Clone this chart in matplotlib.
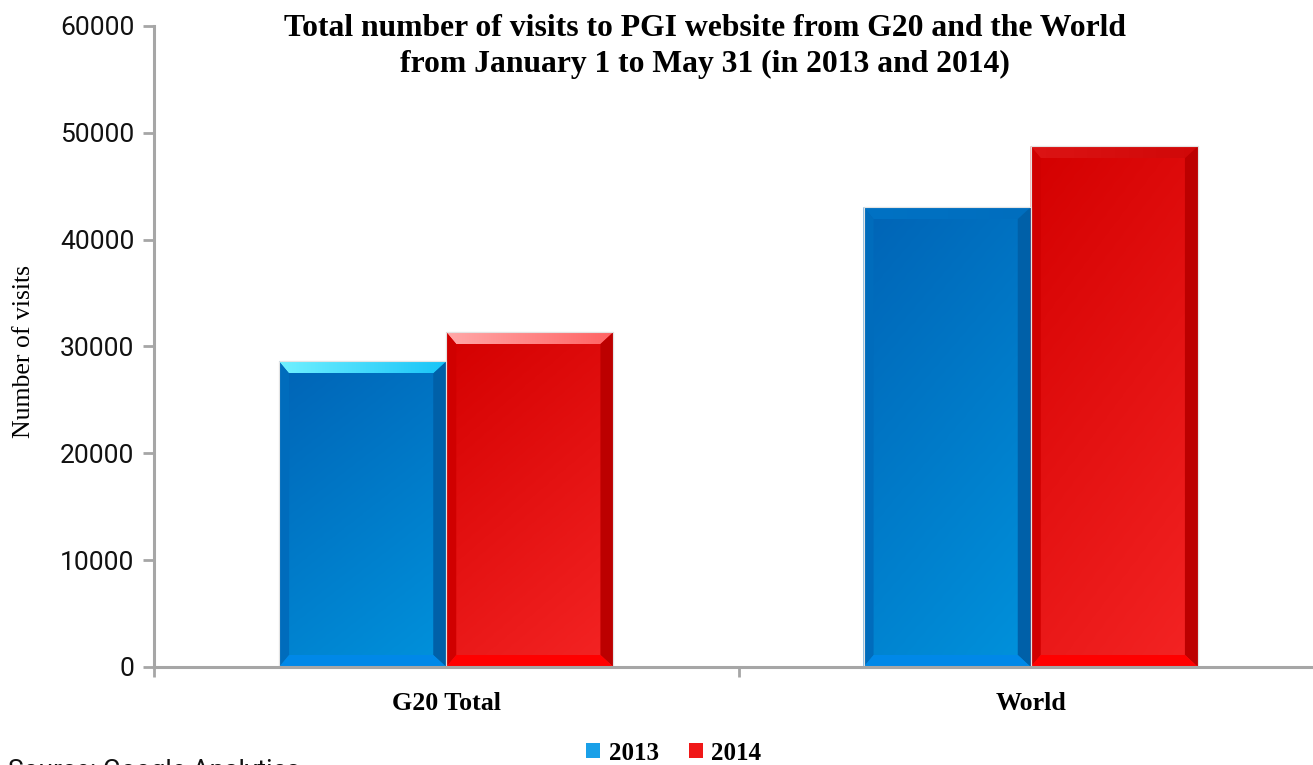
import numpy as np
import matplotlib
matplotlib.use("Agg")
import matplotlib.pyplot as plt
from matplotlib.patches import Polygon, Patch
from matplotlib.colors import LinearSegmentedColormap

# ---- data ----
categories = ["G20 Total", "World"]
series_names = ["2013", "2014"]
visits_2013 = [28600, 43050]
visits_2014 = [31350, 48750]
yticks = [0, 10000, 20000, 30000, 40000, 50000, 60000]

title = "Total number of visits to PGI website from G20 and the World\nfrom January 1 to May 31 (in 2013 and 2014)"
ylabel = "Number of visits"
source = "Source: Google Analytics"

# ---- styles ----
W, H, DPI = 1313, 765, 100
fig = plt.figure(figsize=(W / DPI, H / DPI), dpi=DPI)
fig.patch.set_facecolor("white")
ax = fig.add_axes([154 / W, 1 - 667 / H, 1169 / W, 641 / H])
ax.set_xlim(-0.5, 1.5)
ax.set_ylim(0, 60000)

styles = {
    "2013": dict(body=("#0064B6", "#0092DC"), right="#0060A8", left="#006CBC",
                 bottom="#0088E8",
                 top=[("#70F0FF", "#18C4F8"), ("#0072C4", "#006EBE")],
                 offset=-0.143),
    "2014": dict(body=("#D40000", "#F42424"), right="#BC0000", left="#D00000",
                 bottom="#FF0000",
                 top=[("#FFA8A8", "#FF6464"), ("#DC1414", "#D00808")],
                 offset=0.143),
}
bar_w = 0.286
bev_px = dict(left=10, right=13, top=12, bottom=12)


def grad_fill(ax, verts, c1, c2, direction="diag"):
    poly = Polygon(verts, closed=True, facecolor="none", edgecolor="none")
    ax.add_patch(poly)
    xs = [v[0] for v in verts]
    ys = [v[1] for v in verts]
    n = 64
    if direction == "diag":
        gx, gy = np.meshgrid(np.linspace(0, 1, n), np.linspace(0, 1, n))
        g = np.clip((0.6 * gx + 1.4 * gy) / 2, 0, 1)
    elif direction == "h":
        g = np.tile(np.linspace(0, 1, n), (n, 1))
    else:
        g = np.tile(np.linspace(0, 1, n)[:, None], (1, n))
    cmap = LinearSegmentedColormap.from_list("g", [c1, c2])
    im = ax.imshow(g, cmap=cmap, extent=(min(xs), max(xs), min(ys), max(ys)),
                   origin="upper", aspect="auto", interpolation="bilinear", zorder=2)
    im.set_clip_path(poly)


fig.canvas.draw()
px_per_x = ax.transData.transform((1, 0))[0] - ax.transData.transform((0, 0))[0]
px_per_y = ax.transData.transform((0, 1))[1] - ax.transData.transform((0, 0))[1]

for name, vals in zip(series_names, [visits_2013, visits_2014]):
    st = styles[name]
    xpos = np.arange(len(categories)) + st["offset"]
    bars = ax.bar(xpos, vals, width=bar_w, color=st["body"][0],
                  edgecolor="#D8D8D8", linewidth=0.8, zorder=1)
    for i, r in enumerate(bars):
        x0, y0 = r.get_x(), r.get_y()
        x1, y1 = x0 + r.get_width(), y0 + r.get_height()
        dl = bev_px["left"] / px_per_x
        dr = bev_px["right"] / px_per_x
        dt = bev_px["top"] / px_per_y
        db = bev_px["bottom"] / px_per_y
        grad_fill(ax, [(x0, y0), (x1, y0), (x1, y1), (x0, y1)],
                  st["body"][0], st["body"][1], "diag")
        ax.add_patch(Polygon([(x0, y0), (x0 + dl, y0 + db), (x0 + dl, y1 - dt), (x0, y1)],
                             facecolor=st["left"], edgecolor="none", zorder=3))
        ax.add_patch(Polygon([(x1, y0), (x1 - dr, y0 + db), (x1 - dr, y1 - dt), (x1, y1)],
                             facecolor=st["right"], edgecolor="none", zorder=3))
        ax.add_patch(Polygon([(x0, y0), (x1, y0), (x1 - dr, y0 + db), (x0 + dl, y0 + db)],
                             facecolor=st["bottom"], edgecolor="none", zorder=3))
        tc = st["top"][i]
        top_v = [(x0, y1), (x1, y1), (x1 - dr, y1 - dt), (x0 + dl, y1 - dt)]
        grad_fill(ax, top_v, tc[0], tc[1], "h")
        ax.add_patch(Polygon([(x0, y0), (x1, y0), (x1, y1), (x0, y1)],
                             facecolor="none", edgecolor="#E4E4E4", linewidth=0.8, zorder=4))

ax.set_xlim(-0.5, 1.5)
ax.set_ylim(0, 60000)

for s in ["top", "right"]:
    ax.spines[s].set_visible(False)
for s in ["left", "bottom"]:
    ax.spines[s].set_color("#A6A6A6")
    ax.spines[s].set_linewidth(2.2)
    ax.spines[s].set_zorder(5)

ax.set_yticks(yticks)
ax.set_yticklabels([str(v) for v in yticks], fontfamily="Roboto", fontweight="normal",
                   fontsize=19, color="#111111")
ax.tick_params(axis="y", length=8, width=2, color="#A6A6A6", pad=6)

ax.set_xticks(range(len(categories)))
ax.set_xticklabels(categories, fontfamily="Liberation Serif", fontweight="bold",
                   fontsize=18.7, color="black")
ax.tick_params(axis="x", which="major", length=0, pad=18)
ax.set_xticks([-0.5, 0.5, 1.5], minor=True)
ax.tick_params(axis="x", which="minor", length=7, width=2, color="#A6A6A6")

ax.set_ylabel(ylabel, fontfamily="Liberation Serif", fontsize=18.5, labelpad=0)
ax.yaxis.set_label_coords(-0.102, (667 - 352) / 641)

fig.text(705 / W, 1 - 14 / H, title, ha="center", va="top", fontfamily="Liberation Serif",
         fontweight="bold", fontsize=22.8, linespacing=1.33)

handles = [Patch(facecolor="#1AA0E8", edgecolor="none"),
           Patch(facecolor="#F01818", edgecolor="none")]
leg = fig.legend(handles, series_names, loc="center", bbox_to_anchor=(674 / W, 1 - 753 / H),
                 ncol=2, frameon=False, handlelength=0.55, handleheight=0.55,
                 handletextpad=0.35, columnspacing=1.2,
                 prop=dict(family="Liberation Serif", weight="bold", size=18))

fig.text(8 / W, 1 - 759 / H, source, ha="left", va="top", fontfamily="Roboto",
         fontweight="normal", fontsize=19, color="#111111")

fig.savefig("out.png", dpi=DPI, facecolor="white")
